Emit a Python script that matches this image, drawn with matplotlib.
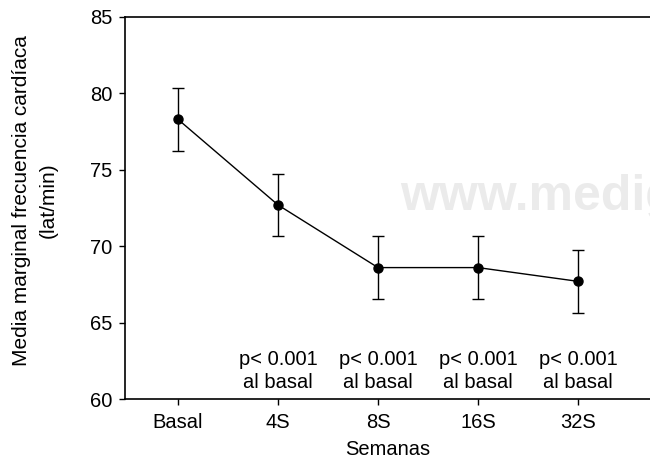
import matplotlib
matplotlib.use('Agg')
import matplotlib.pyplot as plt

plt.rcParams['font.family'] = ['Liberation Sans', 'DejaVu Sans']

# data
weeks = ['Basal', '4S', '8S', '16S', '32S']
mean_hr = [78.3, 72.7, 68.6, 68.6, 67.7]
err_hr = [2.05, 2.05, 2.05, 2.05, 2.05]
p_notes = ['', 'p< 0.001\nal basal', 'p< 0.001\nal basal', 'p< 0.001\nal basal', 'p< 0.001\nal basal']

fig = plt.figure(figsize=(6.5, 4.59), dpi=100)
ax = fig.add_axes([0.1923, 0.1307, 0.8077, 0.8323])
ax.patch.set_visible(False)

x = list(range(len(weeks)))

# watermark behind everything
ax.text(2.22, 72.4, 'www.medig', fontsize=36, fontweight='bold',
        color='#ebebeb', ha='left', va='baseline', zorder=0, clip_on=True)

ax.errorbar(x, mean_hr, yerr=err_hr, fmt='-o', color='black', ecolor='black',
            lw=1, elinewidth=1, capsize=4, capthick=1, markersize=6.5, zorder=3)

for xi, note in zip(x, p_notes):
    if note:
        ax.text(xi, 60.45, note, ha='center', va='bottom', fontsize=14.5,
                linespacing=1.3)

ax.set_xlim(-0.53, 4.72)
ax.set_ylim(60, 85)
ax.set_yticks([60, 65, 70, 75, 80, 85])
ax.set_xticks(x)
ax.set_xticklabels(weeks)
ax.tick_params(labelsize=14.5, length=4, width=1)
ax.tick_params(axis='x', pad=6)
ax.tick_params(axis='y', pad=5)

ax.spines['right'].set_visible(False)
for s in ['left', 'top', 'bottom']:
    ax.spines[s].set_linewidth(1.2)

ax.set_xlabel('Semanas', fontsize=14.5, labelpad=6)
ax.set_ylabel('Media marginal frecuencia cardíaca\n(lat/min)', fontsize=15,
              linespacing=1.5)
ax.yaxis.set_label_coords(-0.128, 0.52)

fig.savefig('out.png', dpi=100)
